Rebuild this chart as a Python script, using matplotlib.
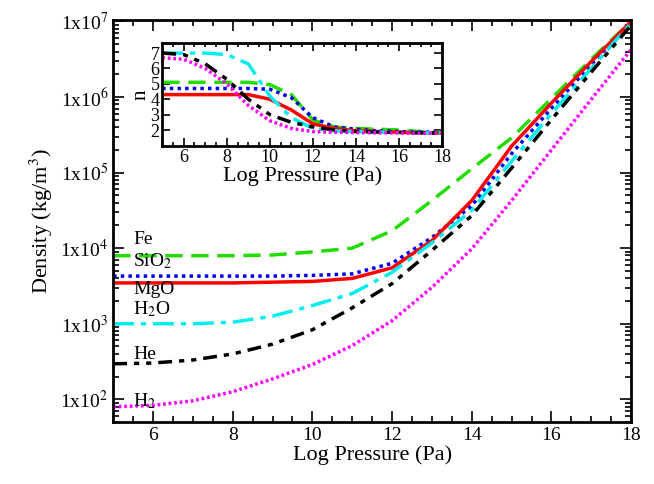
import matplotlib.pyplot as plt
from matplotlib.ticker import FixedLocator, LogLocator, NullFormatter, MultipleLocator
import numpy as np

plt.rcParams["font.family"] = "Liberation Serif"
plt.rcParams["mathtext.fontset"] = "stix"

logp = [5, 6, 7, 8, 9, 10, 11, 12, 13, 14, 15, 16, 17, 18]
# log10 density (kg/m^3)
rho_fe = [3.9, 3.9, 3.9, 3.9, 3.91, 3.95, 4.0, 4.23, 4.63, 5.05, 5.46, 5.98, 6.5, 7.0]
rho_sio2 = [3.63, 3.63, 3.63, 3.63, 3.63, 3.64, 3.66, 3.8, 4.14, 4.56, 5.25, 5.85, 6.43, 7.0]
rho_mgo = [3.54, 3.54, 3.54, 3.54, 3.55, 3.56, 3.6, 3.74, 4.1, 4.63, 5.35, 5.92, 6.47, 7.0]
rho_h2o = [3.0, 3.0, 3.0, 3.02, 3.1, 3.24, 3.4, 3.68, 4.07, 4.5, 5.15, 5.78, 6.38, 6.98]
rho_he = [2.47, 2.48, 2.52, 2.6, 2.73, 2.92, 3.21, 3.53, 3.97, 4.43, 5.06, 5.7, 6.33, 6.95]
rho_h2 = [1.9, 1.92, 1.98, 2.1, 2.27, 2.46, 2.71, 3.04, 3.48, 3.99, 4.63, 5.3, 5.97, 6.63]

# inset: polytropic index n
n_fe = [5.1, 5.1, 5.1, 5.1, 5.1, 4.95, 4.3, 2.65, 2.2, 2.1, 2.05, 2.0, 1.9, 1.85]
n_sio2 = [4.7, 4.7, 4.7, 4.7, 4.7, 4.65, 4.1, 2.8, 2.2, 2.05, 1.95, 1.9, 1.87, 1.85]
n_mgo = [4.3, 4.3, 4.3, 4.3, 4.3, 4.0, 3.3, 2.4, 2.1, 1.95, 1.9, 1.85, 1.82, 1.8]
n_h2o = [7.0, 7.0, 7.0, 6.9, 6.3, 4.2, 2.8, 2.1, 1.95, 1.9, 1.87, 1.85, 1.82, 1.8]
n_he = [7.0, 6.9, 6.3, 5.3, 4.0, 3.0, 2.5, 2.2, 2.0, 1.9, 1.87, 1.85, 1.82, 1.8]
n_h2 = [6.7, 6.6, 6.0, 5.0, 3.6, 2.6, 2.1, 1.9, 1.85, 1.83, 1.82, 1.8, 1.8, 1.8]

series = [
    (rho_fe, n_fe, "#22dd00", (0, (5, 2.5))),
    (rho_sio2, n_sio2, "#0000ee", (0, (1, 1.2))),
    (rho_mgo, n_mgo, "#ff0000", "-"),
    (rho_h2o, n_h2o, "#00eeee", (0, (6, 2, 1.5, 2))),
    (rho_he, n_he, "#000000", (0, (4, 2, 1.5, 2, 1.5, 2))),
    (rho_h2, n_h2, "#ff00ff", (0, (0.8, 0.8))),
]

labels = ["Fe", "SiO$_2$", "MgO", "H$_2$O", "He", "H$_2$"]
label_pos = [(5.5, 1.0e4), (5.5, 5.0e3), (5.5, 2.2e3), (5.5, 1.15e3), (5.5, 3.0e2), (5.5, 7.0e1)]

fig = plt.figure(figsize=(6.54, 4.84), dpi=100)
ax = fig.add_axes([0.173, 0.128, 0.792, 0.831])
for rho, n, c, ls in series:
    ax.plot(logp, 10 ** np.array(rho), color=c, linestyle=ls, linewidth=2.5)
for t, (x, y) in zip(labels, label_pos):
    ax.text(x, y, t, fontsize=14, va="bottom")

ax.set_yscale("log")
ax.set_xlim(5, 18)
ax.set_ylim(50, 1.05e7)
ax.set_yticks([1e2, 1e3, 1e4, 1e5, 1e6, 1e7])
ax.set_yticklabels(["1x10$^{%d}$" % k for k in range(2, 8)])
ax.yaxis.set_minor_locator(LogLocator(subs=np.arange(2, 10)))
ax.yaxis.set_minor_formatter(NullFormatter())
ax.xaxis.set_major_locator(MultipleLocator(2))
ax.xaxis.set_minor_locator(MultipleLocator(0.5))
ax.tick_params(which="both", direction="in", top=True, right=True, labelsize=14)
ax.tick_params(which="major", length=8, width=1.2)
ax.tick_params(which="minor", length=4, width=1.2)
for s in ax.spines.values():
    s.set_linewidth(2)
ax.set_xlabel("Log Pressure (Pa)", fontsize=16, labelpad=1)
ax.set_ylabel("Density (kg/m$^3$)", fontsize=16)

ins = fig.add_axes([0.248, 0.698, 0.428, 0.213])
for rho, n, c, ls in series:
    ins.plot(logp, n, color=c, linestyle=ls, linewidth=2.5)
ins.set_xlim(5, 18)
ins.set_ylim(0.95, 7.65)
ins.yaxis.set_major_locator(FixedLocator([2, 3, 4, 5, 6, 7]))
ins.xaxis.set_major_locator(MultipleLocator(2))
ins.xaxis.set_minor_locator(MultipleLocator(0.5))
ins.tick_params(which="both", direction="in", top=True, right=True, labelsize=13, pad=2)
ins.tick_params(which="major", length=6, width=1.2)
ins.tick_params(which="minor", length=3, width=1.2)
for s in ins.spines.values():
    s.set_linewidth(2)
ins.set_xlabel("Log Pressure (Pa)", fontsize=16, labelpad=0)
ins.set_ylabel("n", fontsize=15, labelpad=0)

fig.savefig("out.png", dpi=100)
